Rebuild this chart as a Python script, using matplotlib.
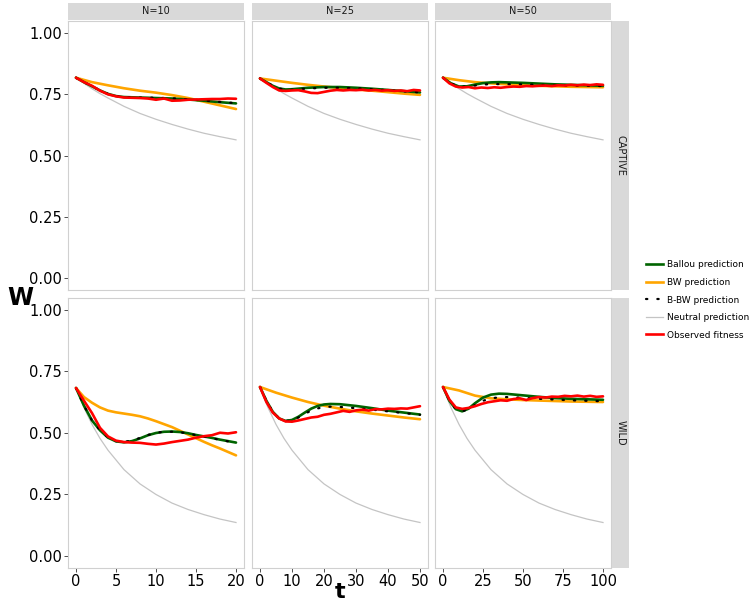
import matplotlib
matplotlib.use("Agg")
import matplotlib.pyplot as plt
from matplotlib.lines import Line2D

# ---------------- data ----------------
pop_sizes = [10, 25, 50]
rows = ["CAPTIVE", "WILD"]
series_labels = ["Ballou prediction", "BW prediction", "B-BW prediction",
                 "Neutral prediction", "Observed fitness"]

x_ticks_10 = [0, 5, 10, 15, 20]
x_ticks_25 = [0, 10, 20, 30, 40, 50]
x_ticks_50 = [0, 25, 50, 75, 100]
y_ticks = [0.00, 0.25, 0.50, 0.75, 1.00]

# Neutral prediction
t_neutral_10 = [0, 1, 2, 3, 4, 6, 8, 10, 12, 14, 16, 18, 20]
t_neutral_25 = [0, 2.5, 5, 7.5, 10, 15, 20, 25, 30, 35, 40, 45, 50]
t_neutral_50 = [0, 5, 10, 15, 20, 30, 40, 50, 60, 70, 80, 90, 100]
w_neutral_captive = [0.818, 0.795, 0.773, 0.753, 0.735, 0.701, 0.672, 0.648,
                     0.627, 0.608, 0.591, 0.577, 0.564]
w_neutral_wild = [0.683, 0.602, 0.534, 0.477, 0.429, 0.350, 0.292, 0.249,
                  0.214, 0.188, 0.167, 0.149, 0.135]

# ---- CAPTIVE, N=10
t_c10_bw = [0, 2, 4, 6, 8, 10, 12, 14, 16, 18, 20]
w_c10_bw = [0.818, 0.800, 0.787, 0.775, 0.765, 0.757, 0.747, 0.735, 0.720, 0.705, 0.690]
t_c10_ballou = [0, 1, 2, 3, 4, 5, 6, 8, 10, 12, 14, 16, 18, 20]
w_c10_ballou = [0.818, 0.800, 0.783, 0.766, 0.752, 0.743, 0.739, 0.737, 0.735,
                0.733, 0.729, 0.724, 0.718, 0.713]
w_c10_bbw = [0.818, 0.800, 0.783, 0.766, 0.752, 0.743, 0.739, 0.737, 0.736,
             0.734, 0.730, 0.725, 0.719, 0.714]
t_c10_obs = list(range(0, 21))
w_c10_obs = [0.818, 0.800, 0.785, 0.765, 0.750, 0.742, 0.737, 0.736, 0.735, 0.733,
             0.728, 0.733, 0.724, 0.725, 0.728, 0.729, 0.730, 0.731, 0.731, 0.733, 0.732]

# ---- CAPTIVE, N=25
t_c25_bw = [0, 5, 10, 15, 20, 25, 30, 35, 40, 45, 50]
w_c25_bw = [0.815, 0.806, 0.797, 0.789, 0.782, 0.776, 0.770, 0.765, 0.759, 0.753, 0.748]
t_c25_ballou = [0, 2, 4, 6, 8, 10, 15, 20, 25, 30, 35, 40, 45, 50]
w_c25_ballou = [0.815, 0.800, 0.785, 0.774, 0.770, 0.771, 0.777, 0.780, 0.780,
                0.777, 0.773, 0.768, 0.763, 0.758]
w_c25_bbw = [0.815, 0.800, 0.785, 0.774, 0.769, 0.769, 0.774, 0.777, 0.777,
             0.775, 0.771, 0.767, 0.762, 0.758]
t_c25_obs = list(range(0, 51, 2))
w_c25_obs = [0.815, 0.797, 0.780, 0.766, 0.764, 0.766, 0.767, 0.762, 0.756, 0.755,
             0.760, 0.765, 0.768, 0.766, 0.768, 0.767, 0.769, 0.766, 0.768, 0.765,
             0.767, 0.764, 0.766, 0.763, 0.768, 0.766]

# ---- CAPTIVE, N=50
t_c50_bw = [0, 10, 20, 30, 40, 50, 60, 70, 80, 90, 100]
w_c50_bw = [0.818, 0.808, 0.800, 0.795, 0.791, 0.788, 0.785, 0.783, 0.781, 0.780, 0.779]
t_c50_ballou = [0, 5, 10, 15, 20, 25, 30, 35, 40, 50, 60, 70, 80, 90, 100]
w_c50_ballou = [0.818, 0.795, 0.782, 0.783, 0.790, 0.796, 0.799, 0.800, 0.799,
                0.797, 0.794, 0.791, 0.789, 0.787, 0.785]
w_c50_bbw = [0.818, 0.795, 0.782, 0.782, 0.786, 0.790, 0.792, 0.792, 0.792,
             0.791, 0.789, 0.787, 0.786, 0.785, 0.784]
t_c50_obs = list(range(0, 101, 4))
w_c50_obs = [0.818, 0.795, 0.782, 0.778, 0.780, 0.775, 0.778, 0.776, 0.779, 0.777,
             0.780, 0.782, 0.781, 0.784, 0.783, 0.785, 0.786, 0.784, 0.787, 0.786,
             0.789, 0.787, 0.790, 0.788, 0.791, 0.789]

# ---- WILD, N=10
t_w10_bw = list(range(0, 21))
w_w10_bw = [0.682, 0.645, 0.622, 0.603, 0.590, 0.583, 0.578, 0.573, 0.567, 0.558,
            0.547, 0.535, 0.523, 0.508, 0.493, 0.478, 0.463, 0.449, 0.436, 0.422, 0.408]
t_w10_ballou = list(range(0, 21))
w_w10_ballou = [0.682, 0.610, 0.550, 0.510, 0.480, 0.465, 0.461, 0.466, 0.477, 0.490,
                0.499, 0.504, 0.505, 0.503, 0.498, 0.491, 0.485, 0.479, 0.472, 0.466, 0.460]
w_w10_bbw = [0.682, 0.610, 0.550, 0.510, 0.481, 0.466, 0.463, 0.468, 0.479, 0.491,
             0.500, 0.504, 0.504, 0.502, 0.497, 0.490, 0.484, 0.478, 0.471, 0.465, 0.459]
t_w10_obs = list(range(0, 21))
w_w10_obs = [0.682, 0.630, 0.580, 0.520, 0.485, 0.468, 0.462, 0.460, 0.459, 0.455,
             0.452, 0.456, 0.462, 0.467, 0.472, 0.480, 0.486, 0.490, 0.500, 0.497, 0.502]

# ---- WILD, N=25
t_w25_bw = [0, 5, 10, 15, 20, 25, 30, 35, 40, 45, 50]
w_w25_bw = [0.686, 0.663, 0.643, 0.625, 0.610, 0.598, 0.587, 0.578, 0.570, 0.562, 0.555]
t_w25_ballou = [0, 2, 4, 6, 8, 10, 12, 14, 16, 18, 20, 22, 25, 30, 35, 40, 45, 50]
w_w25_ballou = [0.686, 0.630, 0.585, 0.558, 0.548, 0.552, 0.565, 0.582, 0.598, 0.609,
                0.615, 0.617, 0.616, 0.609, 0.600, 0.590, 0.582, 0.574]
w_w25_bbw = [0.686, 0.630, 0.585, 0.558, 0.548, 0.551, 0.562, 0.577, 0.590, 0.599,
             0.604, 0.606, 0.605, 0.600, 0.594, 0.587, 0.580, 0.573]
t_w25_obs = list(range(0, 51, 2))
w_w25_obs = [0.686, 0.625, 0.582, 0.558, 0.546, 0.545, 0.550, 0.556, 0.562, 0.565,
             0.573, 0.577, 0.583, 0.589, 0.585, 0.591, 0.594, 0.590, 0.596, 0.595,
             0.598, 0.597, 0.599, 0.598, 0.603, 0.608]

# ---- WILD, N=50
t_w50_bw = [0, 10, 20, 30, 40, 50, 60, 70, 80, 90, 100]
w_w50_bw = [0.686, 0.672, 0.651, 0.640, 0.636, 0.633, 0.631, 0.629, 0.627, 0.626, 0.625]
t_w50_ballou = [0, 4, 8, 12, 16, 20, 25, 30, 35, 40, 50, 60, 70, 80, 90, 100]
w_w50_ballou = [0.686, 0.630, 0.596, 0.587, 0.598, 0.620, 0.643, 0.655, 0.659, 0.658,
                0.652, 0.646, 0.641, 0.638, 0.636, 0.634]
w_w50_bbw = [0.686, 0.630, 0.596, 0.587, 0.596, 0.613, 0.630, 0.640, 0.644, 0.645,
             0.642, 0.638, 0.635, 0.632, 0.630, 0.628]
t_w50_obs = list(range(0, 101, 4))
w_w50_obs = [0.686, 0.635, 0.603, 0.597, 0.601, 0.608, 0.617, 0.624, 0.628, 0.632,
             0.630, 0.637, 0.640, 0.633, 0.641, 0.645, 0.643, 0.647, 0.646, 0.650,
             0.648, 0.651, 0.647, 0.650, 0.646, 0.648]

# ---------------- styling ----------------
col_ballou = "#006400"
col_bw = "#FFA500"
col_neutral = "#C4C4C4"
col_obs = "#FF0000"
strip_col = "#D9D9D9"

W, H = 751, 606
fig = plt.figure(figsize=(W / 100, H / 100), dpi=100)

col_left_px = [68, 252, 435]
col_w_px = 176
row_top_px = [21, 297.5]
row_h_px = [269, 270.5]

xlims = [(-1, 21), (-2.5, 52.5), (-5, 105)]
xticks_all = [x_ticks_10, x_ticks_25, x_ticks_50]
neutral_t = [t_neutral_10, t_neutral_25, t_neutral_50]

panels = {
    (0, 0): (t_c10_ballou, w_c10_ballou, t_c10_bw, w_c10_bw, w_c10_bbw, t_c10_obs, w_c10_obs),
    (0, 1): (t_c25_ballou, w_c25_ballou, t_c25_bw, w_c25_bw, w_c25_bbw, t_c25_obs, w_c25_obs),
    (0, 2): (t_c50_ballou, w_c50_ballou, t_c50_bw, w_c50_bw, w_c50_bbw, t_c50_obs, w_c50_obs),
    (1, 0): (t_w10_ballou, w_w10_ballou, t_w10_bw, w_w10_bw, w_w10_bbw, t_w10_obs, w_w10_obs),
    (1, 1): (t_w25_ballou, w_w25_ballou, t_w25_bw, w_w25_bw, w_w25_bbw, t_w25_obs, w_w25_obs),
    (1, 2): (t_w50_ballou, w_w50_ballou, t_w50_bw, w_w50_bw, w_w50_bbw, t_w50_obs, w_w50_obs),
}
neutral_w = [w_neutral_captive, w_neutral_wild]

def fx(px):
    return px / W

def fy(px):
    return 1 - px / H

dot_style = (0, (0.6, 4.5))

for r in range(2):
    for c in range(3):
        left = fx(col_left_px[c])
        bottom = fy(row_top_px[r] + row_h_px[r])
        ax = fig.add_axes([left, bottom, col_w_px / W, row_h_px[r] / H])
        tb, wb, tbw, wbw, wbbw, to, wo = panels[(r, c)]
        ax.plot(neutral_t[c], neutral_w[r], color=col_neutral, lw=0.9, zorder=2)
        ax.plot(tbw, wbw, color=col_bw, lw=1.9, zorder=3, solid_capstyle="round")
        ax.plot(tb, wb, color=col_ballou, lw=1.9, zorder=4, solid_capstyle="round")
        ax.plot(tb, wbbw, color="black", lw=1.6, zorder=5,
                linestyle=dot_style, dash_capstyle="round")
        ax.plot(to, wo, color=col_obs, lw=1.9, zorder=6, solid_capstyle="round")
        ax.set_xlim(*xlims[c])
        ax.set_ylim(-0.05, 1.05)
        ax.set_xticks(xticks_all[c])
        ax.set_yticks(y_ticks)
        for s in ax.spines.values():
            s.set_color("#D0D0D0")
            s.set_linewidth(0.8)
        ax.tick_params(length=3, width=0.6, color="#333333", labelsize=10.5,
                       labelcolor="black", pad=1.5)
        if c == 0:
            ax.set_yticklabels([f"{v:.2f}" for v in y_ticks])
        else:
            ax.tick_params(axis="y", left=False, labelleft=False)
        if r == 1:
            ax.set_xticklabels([str(v) for v in xticks_all[c]])
        else:
            ax.tick_params(axis="x", bottom=False, labelbottom=False)

        # top strip
        if r == 0:
            sax = fig.add_axes([left, fy(20), col_w_px / W, 17 / H])
            sax.set_facecolor(strip_col)
            sax.set_xticks([]); sax.set_yticks([])
            for s in sax.spines.values():
                s.set_visible(False)
            sax.text(0.5, 0.5, f"N={pop_sizes[c]}", ha="center", va="center",
                     fontsize=7, color="#1A1A1A", transform=sax.transAxes)
    # right strip
    rax = fig.add_axes([fx(612), fy(row_top_px[r] + row_h_px[r]), 17 / W, row_h_px[r] / H])
    rax.set_facecolor(strip_col)
    rax.set_xticks([]); rax.set_yticks([])
    for s in rax.spines.values():
        s.set_visible(False)
    rax.text(0.5, 0.5, rows[r], ha="center", va="center", rotation=-90,
             fontsize=7, color="#1A1A1A", transform=rax.transAxes)

fig.text(fx(20), fy(298), "W", fontsize=17, fontweight="bold", ha="center", va="center")
fig.text(fx(340), fy(592), "t", fontsize=16, fontweight="bold", ha="center", va="center")

handles = [
    Line2D([], [], color=col_ballou, lw=1.9),
    Line2D([], [], color=col_bw, lw=1.9),
    Line2D([], [], color="black", lw=1.6, linestyle=dot_style, dash_capstyle="round"),
    Line2D([], [], color=col_neutral, lw=0.9),
    Line2D([], [], color=col_obs, lw=1.9),
]
fig.legend(handles, series_labels, loc="center left",
           bbox_to_anchor=(fx(642), fy(300)), frameon=False, fontsize=6.5,
           handlelength=1.9, handletextpad=0.5, labelspacing=0.95, borderaxespad=0)

fig.savefig("out.png", dpi=100)
